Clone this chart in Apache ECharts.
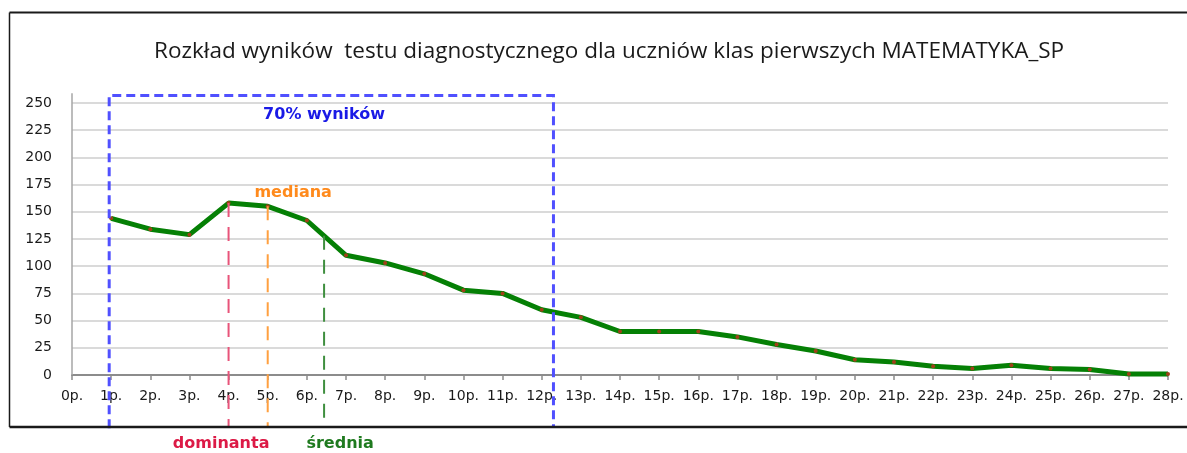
<!DOCTYPE html>
<html>
<head>
<meta charset="utf-8">
<script src="https://cdn.jsdelivr.net/npm/echarts@6/dist/echarts.min.js"></script>
<style>
html,body{margin:0;padding:0;background:#fff;overflow:hidden;}
#chart{width:1187px;height:453px;}
</style>
</head>
<body>
<div id="chart"></div>
<script>
// ---- data ----
const titleText = 'Rozkład wyników  testu diagnostycznego dla uczniów klas pierwszych MATEMATYKA_SP';
const categories = ['0p.','1p.','2p.','3p.','4p.','5p.','6p.','7p.','8p.','9p.','10p.','11p.','12p.','13p.','14p.',
  '15p.','16p.','17p.','18p.','19p.','20p.','21p.','22p.','23p.','24p.','25p.','26p.','27p.','28p.'];
const counts = [null,144,134,129,158,155,142,110,103,93,78,75,60,53,40,40,40,35,28,22,14,12,8,6,9,6,5,1,1];
const yTickValues = [0,25,50,75,100,125,150,175,200,225,250];

// statistics markers (position on the x scale)
const statNames = ['dominanta','mediana','średnia'];
const statPositions = [4, 5, 6.44];
// the "70% wyników" range
const rangeLabel = '70% wyników';
const rangeBounds = [0.95, 12.3];
const rangeTop = 257;

const chart = echarts.init(document.getElementById('chart'), null, {renderer:'canvas'});

const seriesData = categories.map((c, i) => [i, counts[i]]).filter(d => d[1] !== null);

function curveAt(x) {
  const i = Math.floor(x);
  const f = x - i;
  const a = counts[i], b = counts[Math.min(i + 1, counts.length - 1)];
  return a + (b - a) * f;
}

const BOTTOM = -48; // frame bottom in value units

function renderOverlay(params, api) {
  const ch = [];
  const colors = ['#e8547a', '#ffa040', '#3f8f3f'];
  const dash = [14, 10];
  // y axis line (extends a little above 250)
  const ya = api.coord([0, 0]), yb = api.coord([0, 259]);
  ch.push({type:'line', shape:{x1:ya[0], y1:ya[1], x2:yb[0], y2:yb[1]},
    style:{stroke:'#a6a6a6', lineWidth:1.5}});
  // statistic lines
  statPositions.forEach((p, k) => {
    const top = api.coord([p, curveAt(p)]);
    const bot = api.coord([p, BOTTOM]);
    ch.push({type:'line', shape:{x1:top[0], y1:top[1], x2:bot[0], y2:bot[1]},
      style:{stroke:colors[k], lineWidth:2, lineDash:dash}});
  });
  // 70% range box
  const l0 = api.coord([rangeBounds[0], BOTTOM - 1]);
  const lt = api.coord([rangeBounds[0], rangeTop]);
  const rt = api.coord([rangeBounds[1], rangeTop]);
  const r0 = api.coord([rangeBounds[1], BOTTOM]);
  ch.push({type:'polyline', shape:{points:[l0, lt, rt, r0]},
    style:{stroke:'#5050ff', lineWidth:3, lineDash:[9, 5], fill:null}});
  // labels
  const lblFont = 'bold 16px "DejaVu Sans"';
  const rl = api.coord([6.44, 239]);
  ch.push({type:'text', x:rl[0], y:rl[1], style:{text:rangeLabel, font:lblFont, fill:'#1a1ae6', align:'center', verticalAlign:'middle'}});
  const ml = api.coord([5.65, 167]);
  ch.push({type:'text', x:ml[0], y:ml[1], style:{text:statNames[1], font:lblFont, fill:'#ff8a1c', align:'center', verticalAlign:'middle'}});
  const dl = api.coord([3.81, -63.5]);
  ch.push({type:'text', x:dl[0], y:dl[1], style:{text:statNames[0], font:lblFont, fill:'#dc1a46', align:'center', verticalAlign:'middle'}});
  const sl = api.coord([6.85, -63.5]);
  ch.push({type:'text', x:sl[0], y:sl[1], style:{text:statNames[2], font:lblFont, fill:'#1f7a1f', align:'center', verticalAlign:'middle'}});
  return {type:'group', children:ch};
}

const option = {
  backgroundColor:'#ffffff',
  animation:false,
  title:{
    text:titleText,
    left:149, top:35,
    textStyle:{fontFamily:'Open Sans', fontSize:22.5, fontWeight:'normal', color:'#1a1a1a'}
  },
  graphic:[
    {type:'line', silent:true, z:100, shape:{x1:9.5, y1:12.5, x2:1190, y2:12.5}, style:{stroke:'#1a1a1a', lineWidth:2}},
    {type:'line', silent:true, z:100, shape:{x1:9.5, y1:12.5, x2:9.5, y2:427}, style:{stroke:'#1a1a1a', lineWidth:1.5}},
    {type:'line', silent:true, z:100, shape:{x1:9.5, y1:427, x2:1190, y2:427}, style:{stroke:'#1a1a1a', lineWidth:2.5}}
  ],
  grid:{left:72, right:19, top:103, bottom:78, containLabel:false},
  xAxis:{
    type:'value', min:0, max:categories.length - 1, interval:1,
    axisLine:{show:true, lineStyle:{color:'#8c8c8c', width:2}},
    axisTick:{show:true, length:5, lineStyle:{color:'#8c8c8c', width:1.5}},
    axisLabel:{margin:14, fontFamily:'DejaVu Sans', fontSize:14, color:'#1a1a1a',
      formatter:v => categories[v] || ''},
    splitLine:{show:false}
  },
  yAxis:{
    type:'value', min:yTickValues[0], max:yTickValues[yTickValues.length-1],
    interval:yTickValues[1]-yTickValues[0],
    axisLine:{show:false}, axisTick:{show:false},
    axisLabel:{margin:20, fontFamily:'DejaVu Sans', fontSize:14, color:'#1a1a1a'},
    splitLine:{show:true, lineStyle:{color:'#dadada', width:2}}
  },
  series:[{
    type:'line', data:seriesData, z:3,
    lineStyle:{color:'#058005', width:5},
    symbol:'circle', symbolSize:4, showSymbol:true,
    itemStyle:{color:'#a0401a', borderWidth:0}
  },{
    type:'custom', data:[[0,0]], z:4, silent:true,
    renderItem:renderOverlay
  }]
};
chart.setOption(option);
</script>
</body>
</html>
